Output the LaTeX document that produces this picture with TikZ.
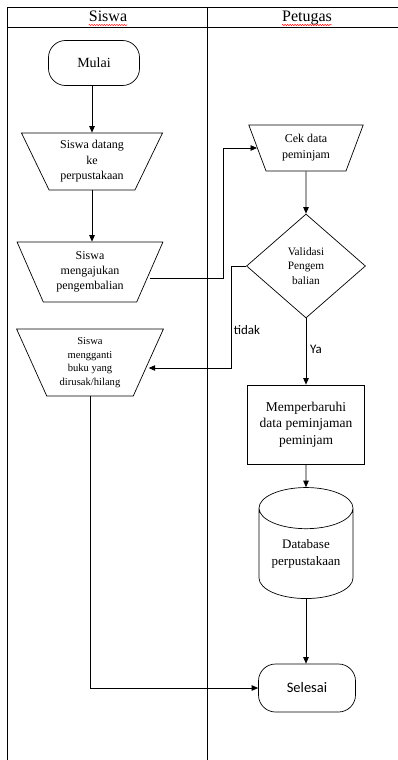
\documentclass[tikz,border=0pt]{standalone}
\usepackage{fontspec}
\setmainfont{Liberation Serif}
\newfontfamily\calibri{Carlito}
\usetikzlibrary{shapes.geometric,arrows.meta,decorations.pathmorphing}
\newcommand{\fs}[2]{\fontsize{#1}{#2}\selectfont}

\begin{document}
\begin{tikzpicture}[x=1pt, y=-1pt,
    every node/.style={align=center, inner sep=0pt},
    trap/.style={draw, line width=0.7pt, trapezium, shape border rotate=180,
        trapezium stretches=true},
    term/.style={draw, line width=0.7pt, rounded corners=17pt},
    arr/.style={line width=0.7pt, -{Triangle[length=6.5pt,width=5.5pt]}},
    squig/.style={red, line width=0.5pt, decorate,
        decoration={snake, segment length=2.5pt, amplitude=0.6pt}}]
\useasboundingbox (0,0) rectangle (398,760);

% Lanes
\draw[line width=0.9pt] (7,761) -- (7,7) -- (399,7);
\draw[line width=0.9pt] (7,27) -- (399,27);
\draw[line width=0.9pt] (207,7) -- (207,761);
\node[font=\fs{16}{18}, anchor=base] (hsiswa) at (108,22) {Siswa};
\node[font=\fs{16}{18}, anchor=base] (hpetugas) at (307,22) {Petugas};
\draw[squig] ([yshift=-3pt]hsiswa.base west) -- ([yshift=-3pt]hsiswa.base east);
\draw[squig] ([yshift=-3pt]hpetugas.base west) -- ([yshift=-3pt]hpetugas.base east);

% Siswa
\node[term, minimum width=91pt, minimum height=45pt, font=\fs{14}{16}] (mulai) at (94,63) {Mulai};
\node[trap, trapezium angle=64, minimum width=141pt, minimum height=57pt, font=\fs{12}{15.5}]
    (datang) at (92,161.5) {Siswa datang\\ke\\perpustakaan};
\node[trap, trapezium angle=65, minimum width=146pt, minimum height=60pt, font=\fs{12}{15}]
    (ajukan) at (90,272) {Siswa\\mengajukan\\pengembalian};
\node[trap, trapezium angle=67, minimum width=147pt, minimum height=67pt, font=\fs{10.6}{13.5}]
    (ganti) at (90,362.5) {Siswa\\mengganti\\buku yang\\dirusak/hilang};

% Petugas
\node[trap, trapezium angle=69, minimum width=115pt, minimum height=46pt, font=\fs{12}{16}]
    (cek) at (306,148) {Cek data\\peminjam};
\node[draw, line width=0.7pt, diamond, minimum width=119pt, minimum height=104pt, font=\fs{11.3}{14.5}]
    (validasi) at (306,266) {Validasi\\Pengem\\balian};
\node[draw, line width=0.7pt, minimum width=117pt, minimum height=79pt, font=\fs{13.5}{16.5}]
    (perbarui) at (306,424.5) {Memperbaruhi\\data peminjaman\\peminjam};
\node[draw, line width=0.7pt, cylinder, shape border rotate=90, aspect=0.6,
    minimum width=94pt, minimum height=111pt, font=\fs{13}{17}]
    (db) at (306,553.5) {Database\\perpustakaan};
\node[term, minimum width=97pt, minimum height=48pt, font=\calibri\fs{14.5}{16}]
    (selesai) at (307,688) {Selesai};

% Arrows
\draw[arr] (mulai.south -| datang.north) -- (datang.north);
\draw[arr] (datang.south) -- (datang.south |- ajukan.north);
\draw[arr] ([yshift=-6pt]ajukan.east) -- ++(73,0) |- (cek.west);
\draw[arr] (cek.south) -- (validasi.north);
\draw[arr] (validasi.west) -- ++(-15,0) |- ([yshift=-5.5pt]ganti.east);
\draw[arr] (validasi.south) -- (perbarui.north);
\draw[arr] (perbarui.south) -- (db.north);
\draw[arr] (db.south) -- (db.south |- selesai.north);
\draw[arr] (ganti.south) |- (selesai.west);
\node[font=\calibri\fs{13}{15}] (tidak) at (247,330) {tidak};
\node[font=\calibri\fs{13}{15}] (ya) at (316,349) {Ya};
\end{tikzpicture}
\end{document}
